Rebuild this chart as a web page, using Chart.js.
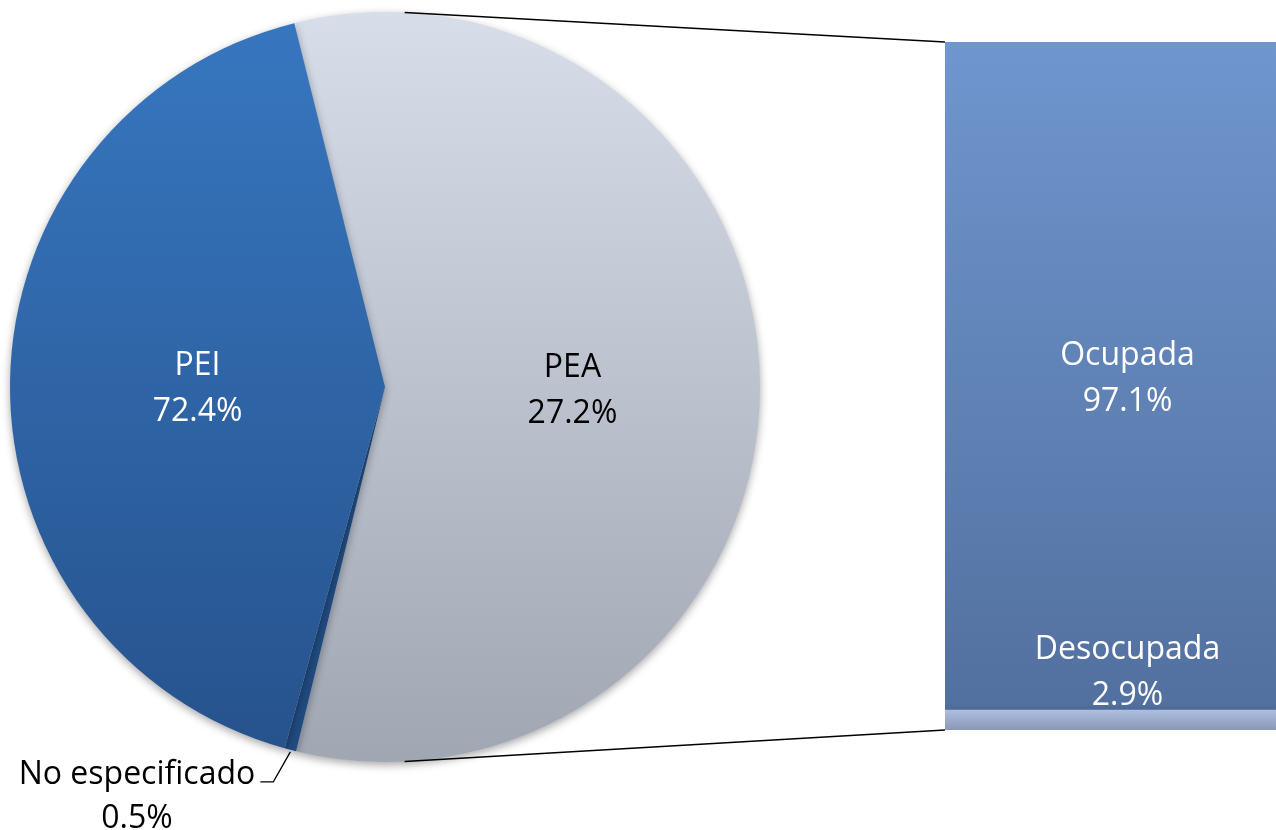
<!DOCTYPE html>
<html>
<head>
<meta charset="utf-8">
<script src="https://cdn.jsdelivr.net/npm/chart.js@4.4.1/dist/chart.umd.min.js"></script>
<style>
  html, body { margin: 0; padding: 0; background: #fff; overflow: hidden; }
  #wrap { position: relative; width: 1276px; height: 830px; overflow: hidden; }
  canvas { position: absolute; left: 0; top: 0; }
</style>
</head>
<body>
<div id="wrap">
  <canvas id="pieCanvas" width="1276" height="830"></canvas>
  <canvas id="barCanvas" width="1310" height="830"></canvas>
</div>
<script>
// pie slices, clockwise from the top edge of PEA
var sliceNames = ['PEA', 'No especificado', 'PEI'];
var sliceShares = [57.7, 0.5, 41.8];      // slice sizes as drawn
var sliceLabels = ['27.2%', '0.5%', '72.4%'];

// bar of pie, bottom to top
var barNames = ['Desocupada', 'Ocupada'];
var barValues = [2.9, 97.1];
var barLabels = ['2.9%', '97.1%'];

var FONT = '"Open Sans", "Noto Sans", sans-serif';

function vGrad(ctx, y0, y1, c0, c1) {
	var g = ctx.createLinearGradient(0, y0, 0, y1);
	g.addColorStop(0, c0);
	g.addColorStop(1, c1);
	return g;
}

var sliceColors = [
	['#d7dee9', '#a0a7b3'],
	['#22508a', '#1f4a80'],
	['#3777c0', '#26528c']
];

var pieLabels = {
	id: 'pieLabels',
	beforeDatasetsDraw: function(chart) {
		var ctx = chart.ctx;
		ctx.save();
		ctx.shadowColor = 'rgba(0,0,0,0.35)';
		ctx.shadowBlur = 8;
		ctx.shadowOffsetY = 3;
	},
	afterDatasetsDraw: function(chart) {
		var ctx = chart.ctx;
		ctx.restore();
		var arcs = chart.getDatasetMeta(0).data;
		ctx.save();
		ctx.font = '32px ' + FONT;
		ctx.textAlign = 'center';
		ctx.textBaseline = 'middle';
		// PEA and PEI inside their slices
		[0, 2].forEach(function(i) {
			var p = arcs[i].tooltipPosition();
			ctx.fillStyle = i == 2 ? '#ffffff' : '#000000';
			ctx.fillText(sliceNames[i], p.x, p.y - 19);
			ctx.fillText(sliceLabels[i], p.x, p.y + 27);
		});
		// No especificado outside, with a leader line
		var a = arcs[1];
		var mid = (a.startAngle + a.endAngle) / 2;
		var ex = a.x + Math.cos(mid) * a.outerRadius;
		var ey = a.y + Math.sin(mid) * a.outerRadius;
		ctx.strokeStyle = '#000';
		ctx.lineWidth = 1.3;
		ctx.beginPath();
		ctx.moveTo(ex, ey + 2);
		ctx.lineTo(ex - 17, ey + 32);
		ctx.lineTo(ex - 30, ey + 32);
		ctx.stroke();
		ctx.fillStyle = '#000';
		ctx.fillText(sliceNames[1], 137, ey + 25);
		ctx.fillText(sliceLabels[1], 137, ey + 69);
		ctx.restore();
	}
};

var pieChart = new Chart(document.getElementById('pieCanvas'), {
	type: 'pie',
	data: {
		labels: sliceNames,
		datasets: [{
			data: sliceShares,
			borderWidth: 0,
			backgroundColor: function(c) {
				var area = c.chart.chartArea;
				var cols = sliceColors[c.dataIndex];
				if (!area) return cols[0];
				return vGrad(c.chart.ctx, area.top, area.bottom, cols[0], cols[1]);
			}
		}]
	},
	options: {
		responsive: false,
		animation: false,
		rotation: -14,
		layout: { padding: { left: 10, top: 12, right: 516, bottom: 68 } },
		plugins: { legend: { display: false }, tooltip: { enabled: false } }
	},
	plugins: [pieLabels]
});

var barExtras = {
	id: 'barExtras',
	beforeDatasetsDraw: function(chart) {
		var ctx = chart.ctx;
		ctx.save();
		ctx.shadowColor = 'rgba(0,0,0,0.35)';
		ctx.shadowBlur = 8;
		ctx.shadowOffsetY = 3;
	},
	afterDatasetsDraw: function(chart) {
		var ctx = chart.ctx;
		ctx.restore();
		var low = chart.getDatasetMeta(0).data[0];
		var high = chart.getDatasetMeta(1).data[0];
		var left = low.x - low.width / 2;

		// connector lines from the pie
		var arc = pieChart.getDatasetMeta(0).data[0];
		var t1 = 3 * Math.PI / 180, t2 = 177 * Math.PI / 180;
		ctx.save();
		ctx.strokeStyle = '#000';
		ctx.lineWidth = 1.3;
		ctx.beginPath();
		ctx.moveTo(arc.x + Math.sin(t1) * arc.outerRadius, arc.y - Math.cos(t1) * arc.outerRadius);
		ctx.lineTo(left, high.y);
		ctx.moveTo(arc.x + Math.sin(t2) * arc.outerRadius, arc.y - Math.cos(t2) * arc.outerRadius);
		ctx.lineTo(left, low.base);
		ctx.stroke();

		ctx.font = '32px ' + FONT;
		ctx.textAlign = 'center';
		ctx.textBaseline = 'middle';
		ctx.fillStyle = '#ffffff';
		var cy = (high.y + high.base) / 2;
		ctx.fillText(barNames[1], high.x, cy - 20);
		ctx.fillText(barLabels[1], high.x, cy + 26);
		ctx.fillText(barNames[0], low.x, low.y - 60);
		ctx.fillText(barLabels[0], low.x, low.y - 14);
		ctx.restore();
	}
};

new Chart(document.getElementById('barCanvas'), {
	type: 'bar',
	data: {
		labels: [''],
		datasets: [
			{
				label: barNames[0],
				data: [barValues[0]],
				borderWidth: 0,
				backgroundColor: function(c) {
					var s = c.chart.scales.y;
					if (!s || !c.chart.chartArea) return '#9fb0d2';
					return vGrad(c.chart.ctx, s.getPixelForValue(barValues[0]), s.getPixelForValue(0), '#adbee0', '#8a98b2');
				}
			},
			{
				label: barNames[1],
				data: [barValues[1]],
				borderWidth: 0,
				backgroundColor: function(c) {
					var area = c.chart.chartArea;
					if (!area) return '#6183b8';
					return vGrad(c.chart.ctx, area.top, area.bottom, '#6f96cf', '#516f9d');
				}
			}
		]
	},
	options: {
		responsive: false,
		animation: false,
		layout: { padding: { left: 945, top: 42, right: 0, bottom: 100 } },
		datasets: { bar: { barPercentage: 1, categoryPercentage: 1 } },
		scales: {
			x: { display: false, stacked: true },
			y: { display: false, stacked: true, min: 0, max: 100 }
		},
		plugins: { legend: { display: false }, tooltip: { enabled: false } }
	},
	plugins: [barExtras]
});
</script>
</body>
</html>
